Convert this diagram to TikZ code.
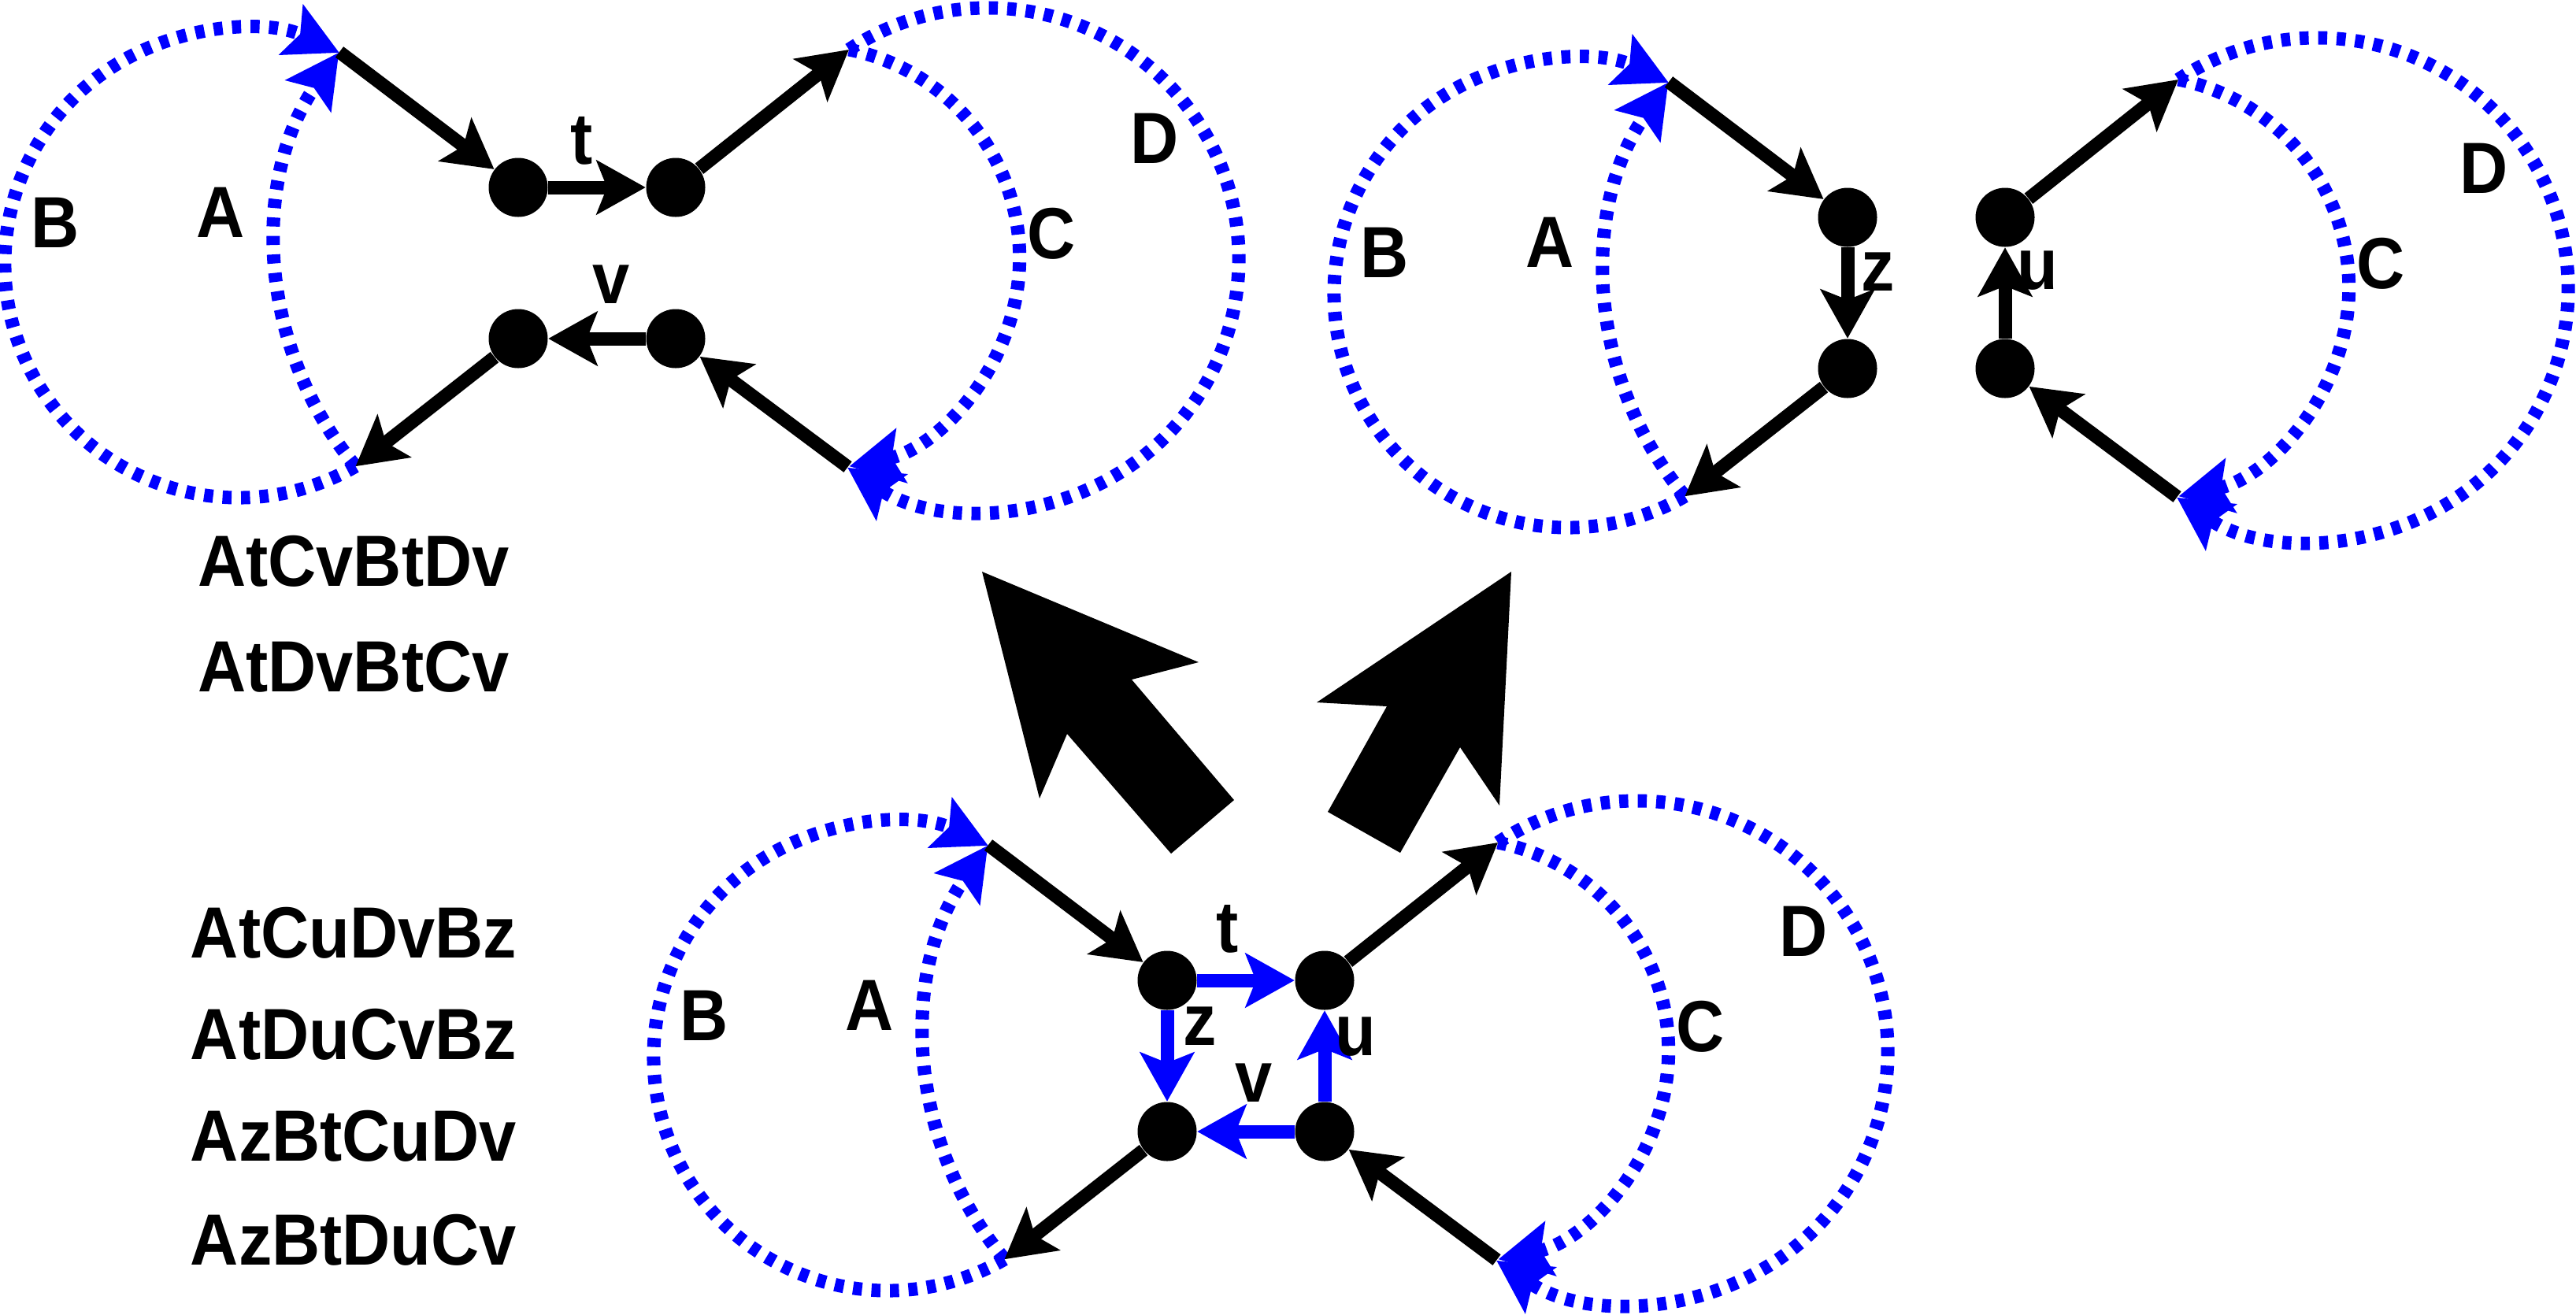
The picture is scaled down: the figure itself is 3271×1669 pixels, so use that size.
\documentclass[tikz,border=0pt]{standalone}
\usepackage{fontspec}
\setmainfont{Liberation Sans}[FakeStretch=0.92]
\usetikzlibrary{arrows.meta}
\definecolor{xblue}{RGB}{0,0,255}
\tikzset{
  blk/.style={line width=1.7mm, -{Stealth[length=6.2mm,width=6.8mm,inset=1.3mm]}},
  bluarr/.style={blk, xblue},
  dotarc/.style={xblue, line width=1.7mm, dash pattern=on 1.15mm off 1.2mm,
     -{Stealth[length=6.7mm,width=6.9mm,inset=1.2mm]}},
  dot/.style={circle, fill=black, inner sep=0pt, minimum size=7.5mm},
  lbl/.style={inner sep=0pt, font=\bfseries\fontsize{26.2}{31}\selectfont},
}
\newcommand\lenses[1]{%
  \coordinate (#1JTL) at (431,66);
  \coordinate (#1JBL) at (451.5,592.2);
  \coordinate (#1JTR) at (1078,63);
  \coordinate (#1JBR) at (1076.5,593);
  \draw[dotarc] (#1JBL) arc[start angle=60, end angle=295.5, radius=297];
  \draw[dotarc] (#1JBL) arc[start angle=140.3, end angle=215.1, radius=433];
  \draw[dotarc] (#1JTR) arc[start angle=236.5, end angle=483.9, radius=319];
  \draw[dotarc] (#1JTR) arc[start angle=-78.6, end angle=78.5, radius=270];
  \node[dot] (#1a) at (658,238) {};
  \node[dot] (#1b) at (858,238) {};
  \node[dot] (#1c) at (658,430) {};
  \node[dot] (#1d) at (858,430) {};
  \node[lbl] (#1B) at (70,283) {B};
  \node[lbl] (#1A) at (280,270) {A};
  \node[lbl] (#1C) at (1335,297) {C};
  \node[lbl] (#1D) at (1466,176) {D};
}
\begin{document}
\begin{tikzpicture}[x=0.1mm,y=-0.1mm]
\useasboundingbox (0,0) rectangle (3271,1669);
% top-left panel
\begin{scope}
  \lenses{P}
\end{scope}
\draw[blk] (PJTL) -- (Pa);
\draw[blk] (Pa) -- (Pb);
\draw[blk] (Pb) -- (PJTR);
\draw[blk] (PJBR) -- (Pd);
\draw[blk] (Pd) -- (Pc);
\draw[blk] (Pc) -- (PJBL);
\node[lbl] (Pt) at (739,179) {t};
\node[lbl] (Pv) at (776,361) {v};
% top-right panel
\begin{scope}[shift={(1688,38)}]
  \lenses{Q}
\end{scope}
\draw[blk] (QJTL) -- (Qa);
\draw[blk] (Qa) -- (Qc);
\draw[blk] (Qc) -- (QJBL);
\draw[blk] (Qd) -- (Qb);
\draw[blk] (Qb) -- (QJTR);
\draw[blk] (QJBR) -- (Qd);
\node[lbl] (Qz) at (2385,345) {z};
\node[lbl] (Qu) at (2587,344) {u};
% bottom panel
\begin{scope}[shift={(824,1007)}]
  \lenses{R}
\end{scope}
\draw[blk] (RJTL) -- (Ra);
\draw[blk] (Rb) -- (RJTR);
\draw[blk] (RJBR) -- (Rd);
\draw[blk] (Rc) -- (RJBL);
\draw[bluarr] (Ra) -- (Rb);
\draw[bluarr] (Ra) -- (Rc);
\draw[bluarr] (Rd) -- (Rb);
\draw[bluarr] (Rd) -- (Rc);
\node[lbl] (Rt) at (1559,1180) {t};
\node[lbl] (Rz) at (1524,1303) {z};
\node[lbl] (Rv) at (1592,1375) {v};
\node[lbl] (Ru) at (1721,1317) {u};
% big arrows
\fill (1247,726) -- (1522,841) -- (1437,863) -- (1567,1016) -- (1487,1084) -- (1355,932) -- (1320,1014) -- cycle;
\fill (1919,726) -- (1904,1023) -- (1854,949) -- (1778,1083) -- (1686,1031) -- (1761,897) -- (1672,892) -- cycle;
% words
\node[lbl] (w1) at (449,713) {AtCvBtDv};
\node[lbl] (w2) at (449,847) {AtDvBtCv};
\node[lbl] (w3) at (449,1185) {AtCuDvBz};
\node[lbl] (w4) at (449,1314) {AtDuCvBz};
\node[lbl] (w5) at (449,1443) {AzBtCuDv};
\node[lbl] (w6) at (449,1575) {AzBtDuCv};
\end{tikzpicture}
\end{document}
